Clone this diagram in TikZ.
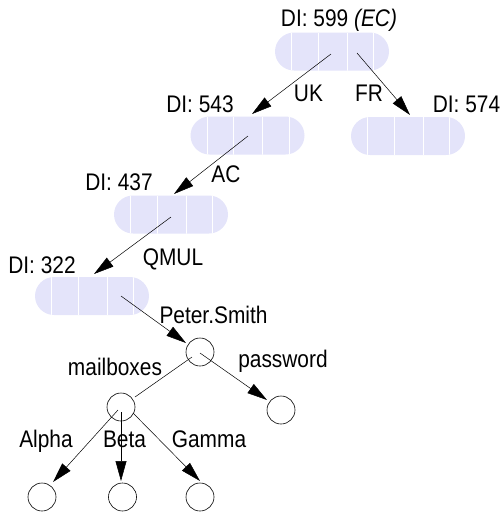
\documentclass[tikz,border=0pt]{standalone}
\usepackage{fontspec}
\setmainfont{Liberation Sans}[FakeStretch=0.87]
\usetikzlibrary{arrows.meta,calc,shapes.misc}
\definecolor{boxfill}{RGB}{228,228,250}
\begin{document}
\begin{tikzpicture}[x=1pt,y=-1pt,
  every node/.style={font=\fontsize{24}{28}\selectfont},
  dibox/.style={rounded rectangle, fill=boxfill, minimum width=114pt, minimum height=38pt, inner sep=0pt,
    path picture={\foreach \d in {16.5,43,72,98.5}
      \draw[white, line width=0.8pt] ([xshift=\d pt]path picture bounding box.south west) -- ([xshift=\d pt]path picture bounding box.north west);}},
  vert/.style={circle, draw=black, line width=0.6pt, minimum size=28pt, inner sep=0pt},
  lab/.style={anchor=base, inner sep=0pt},
  link/.style={draw=black, line width=0.5pt},
  arr/.style={link, -{Triangle[length=20pt,width=11pt]}}]
\useasboundingbox (0,0) rectangle (502,512);
% boxes
\node[dibox] (b1) at (332,51.5) {};
\node[dibox] (b2) at (247.5,135.5) {};
\node[dibox] (b3) at (408,136) {};
\node[dibox] (b4) at (171,214.5) {};
\node[dibox] (b5) at (92,296) {};
% circles
\node[vert] (ps) at (200,352) {};
\node[vert] (mb) at (121,407) {};
\node[vert] (pw) at (281,410) {};
\node[vert] (al) at (42,497) {};
\node[vert] (be) at (122.5,497) {};
\node[vert] (ga) at (200,497) {};
% box labels
\node[lab] (l1) at (339,26) {DI: 599 \textit{(EC)}};
\node[lab] (l2) at (200,112) {DI: 543};
\node[lab] (l3) at (466.5,112) {DI: 574};
\node[lab] (l4) at (119,190) {DI: 437};
\node[lab] (l5) at (42,273) {DI: 322};
% edge labels
\node[lab] (uk) at (308.5,101) {UK};
\node[lab] (fr) at (369,101) {FR};
\node[lab] (ac) at (226,182) {AC};
\node[lab] (qm) at (173,265) {QMUL};
\node[lab] (psl) at (213.5,323) {Peter.Smith};
\node[lab] (mbl) at (115,375) {mailboxes};
\node[lab] (pwl) at (283,367) {password};
\node[lab] (all) at (46,447) {Alpha};
\node[lab] (bel) at (124.5,447) {Beta};
\node[lab] (gal) at (209,447) {Gamma};
% connectors
\draw[arr] ($(b1)+(-1,2.5)$) -- ($(b2)+(4.5,-21.5)$);
\draw[arr] ($(b1)+(25,1.5)$) -- ($(b3)+(2,-21)$);
\draw[arr] ($(b2)+(0.5,0.5)$) -- ($(b4)+(3,-20.5)$);
\draw[arr] ($(b4)+(0,2.5)$) -- ($(b5)+(2,-22)$);
\draw[arr] ($(b5)+(29,0)$) -- ($(ps)+(-14,-9)$);
\draw[arr] ($(ps)+(0,1)$) -- ($(pw)+(-14,-10)$);
\draw[link] ($(ps)+(-8,5)$) -- ($(mb)+(14,-10)$);
\draw[arr] ($(mb)+(-3,3)$) -- ($(al)+(11,-15)$);
\draw[arr] ($(mb)+(0,5)$) -- ($(be)+(-1.5,-16)$);
\draw[arr] ($(mb)+(12,6)$) -- ($(ga)+(0,-16)$);
\end{tikzpicture}
\end{document}
